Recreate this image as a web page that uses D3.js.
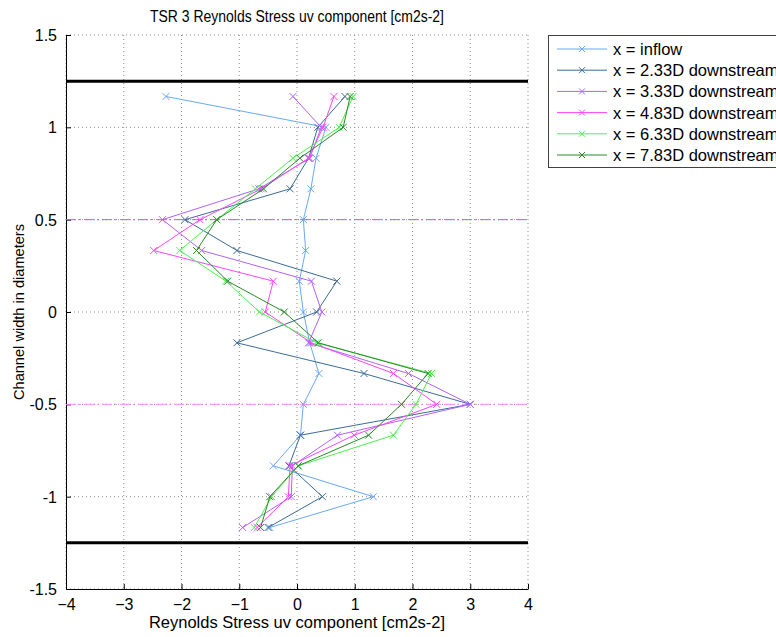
<!DOCTYPE html>
<html>
<head>
<meta charset="utf-8">
<script src="https://cdn.jsdelivr.net/npm/d3@7"></script>
<style>
  body { margin: 0; background: #fff; }
  svg { display: block; }
</style>
</head>
<body>
<div id="chart"></div>
<script>
// chart values
var yLevels = [1.167, 1.0, 0.833, 0.667, 0.5, 0.333, 0.167, 0, -0.167, -0.333, -0.5, -0.667, -0.833, -1.0, -1.167];

var inflow = [-2.27, 0.5, 0.33, 0.24, 0.11, 0.15, 0.04, 0.11, 0.22, 0.38, 0.11, 0.06, -0.41, 1.32, -0.47];
var down233 = [0.83, 0.36, 0.2, -0.12, -1.94, -1.04, 0.69, 0.34, -1.04, 1.16, 3.0, 0.06, -0.14, 0.44, -0.5];
var down333 = [-0.07, 0.42, 0.22, -0.66, -2.33, -1.65, 0.25, 0.43, 0.2, 1.93, 3.0, 0.7, -0.08, -0.1, -0.94];
var down483 = [0.64, 0.45, 0.2, -0.62, -1.68, -2.48, -0.41, -0.55, 0.25, 1.67, 2.42, 0.99, -0.12, -0.15, -0.69];
var down633 = [0.97, 0.73, -0.07, -0.72, -1.39, -2.03, -1.23, -0.65, 0.34, 2.33, 2.06, 1.67, 0.02, -0.44, -0.74];
var down783 = [0.92, 0.8, 0.05, -0.58, -1.39, -1.74, -1.2, -0.22, 0.37, 2.27, 1.81, 1.24, 0.02, -0.47, -0.63];

var seriesNames = ['x = inflow', 'x = 2.33D downstream', 'x = 3.33D downstream',
                   'x = 4.83D downstream', 'x = 6.33D downstream', 'x = 7.83D downstream'];
var seriesValues = [inflow, down233, down333, down483, down633, down783];
var seriesColors = ['#6aa8f4', '#3b6c98', '#b261ff', '#ff44ff', '#48f548', '#2a8a2a'];

var xTicks = [-4, -3, -2, -1, 0, 1, 2, 3, 4];
var yTicks = [-1.5, -1, -0.5, 0, 0.5, 1, 1.5];
var wallLines = [1.25, -1.25];
var turbineLines = [0.5, -0.5];

var fullWidth = 776;
var fullHeight = 637;
var mainFont = '"Liberation Sans", Arial, Helvetica, sans-serif';
var textSize = '16px';

window.onload = function() {
    render();
};

function render() {
    var svg = d3.select('#chart').append('svg')
        .attr('width', fullWidth)
        .attr('height', fullHeight);

    var left = 66, right = 528, top = 35, bottom = 589;

    var x = d3.scaleLinear().domain([-4, 4]).range([left, right]);
    var y = d3.scaleLinear().domain([-1.5, 1.5]).range([bottom, top]);

    // dotted grid
    svg.append('g').selectAll('line.gx')
        .data(xTicks).enter().append('line')
        .attr('x1', function(d) { return x(d); })
        .attr('x2', function(d) { return x(d); })
        .attr('y1', top).attr('y2', bottom)
        .attr('stroke', '#8c8c8c')
        .attr('stroke-width', 1)
        .attr('stroke-dasharray', '1 3');

    svg.append('g').selectAll('line.gy')
        .data(yTicks).enter().append('line')
        .attr('x1', left).attr('x2', right)
        .attr('y1', function(d) { return y(d); })
        .attr('y2', function(d) { return y(d); })
        .attr('stroke', '#8c8c8c')
        .attr('stroke-width', 1)
        .attr('stroke-dasharray', '1 3');

    // axes with inward ticks
    var xAxis = svg.append('g')
        .attr('transform', 'translate(0,' + bottom + ')')
        .call(d3.axisBottom(x).tickValues(xTicks).tickSizeInner(-5).tickSizeOuter(0).tickPadding(10)
            .tickFormat(d3.format('d')));
    var yAxis = svg.append('g')
        .attr('transform', 'translate(' + left + ',0)')
        .call(d3.axisLeft(y).tickValues(yTicks).tickSizeInner(-5).tickSizeOuter(0).tickPadding(9)
            .tickFormat(function(d) { return d === 0 ? '0' : String(d); }));

    [xAxis, yAxis].forEach(function(a) {
        a.select('.domain').attr('stroke', '#000').attr('stroke-width', 1);
        a.selectAll('.tick line').attr('stroke', '#000');
        a.selectAll('.tick text')
            .style('font-family', mainFont)
            .style('font-size', textSize)
            .attr('fill', '#000');
    });
    yAxis.selectAll('.tick text').attr('dy', '0.35em');

    // channel walls
    svg.append('g').selectAll('line')
        .data(wallLines).enter().append('line')
        .attr('x1', left).attr('x2', right)
        .attr('y1', function(d) { return y(d); })
        .attr('y2', function(d) { return y(d); })
        .attr('stroke', '#000')
        .attr('stroke-width', 3);

    // turbine position lines
    svg.append('g').selectAll('line')
        .data(turbineLines).enter().append('line')
        .attr('x1', left).attr('x2', right)
        .attr('y1', function(d) { return y(d); })
        .attr('y2', function(d) { return y(d); })
        .attr('stroke', function(d, i) { return i === 0 ? '#b36bb3' : '#ff88ff'; })
        .attr('stroke-width', 1)
        .attr('stroke-dasharray', '10 3 2 3');

    // series
    var line = d3.line()
        .x(function(d) { return x(d[0]); })
        .y(function(d) { return y(d[1]); });

    var m = 3.5;
    seriesValues.forEach(function(vals, s) {
        var pts = vals.map(function(v, i) { return [v, yLevels[i]]; });
        var g = svg.append('g');
        g.append('path')
            .attr('d', line(pts))
            .attr('fill', 'none')
            .attr('stroke', seriesColors[s])
            .attr('stroke-width', 1);
        g.selectAll('path.mk')
            .data(pts).enter().append('path')
            .attr('d', function(d) {
                var cx = x(d[0]), cy = y(d[1]);
                return 'M' + (cx - m) + ',' + (cy - m) + 'L' + (cx + m) + ',' + (cy + m) +
                       'M' + (cx - m) + ',' + (cy + m) + 'L' + (cx + m) + ',' + (cy - m);
            })
            .attr('stroke', seriesColors[s])
            .attr('stroke-width', 1)
            .attr('fill', 'none');
    });

    // title and axis labels
    svg.append('text')
        .attr('x', (left + right) / 2)
        .attr('y', 22)
        .style('text-anchor', 'middle')
        .style('font-family', mainFont)
        .style('font-size', '16px')
        .attr('textLength', 294)
        .attr('lengthAdjust', 'spacingAndGlyphs')
        .text('TSR 3 Reynolds Stress uv component [cm2s-2]');

    svg.append('text')
        .attr('x', (left + right) / 2)
        .attr('y', 628)
        .style('text-anchor', 'middle')
        .style('font-family', mainFont)
        .style('font-size', '16.5px')
        .text('Reynolds Stress uv component [cm2s-2]');

    svg.append('text')
        .attr('transform', 'translate(24,' + ((top + bottom) / 2) + ') rotate(-90)')
        .style('text-anchor', 'middle')
        .style('font-family', mainFont)
        .style('font-size', '14.6px')
        .text('Channel width in diameters');

    makeLegend(svg);
}

function makeLegend(svg) {
    var lx = 548, ly = 35, rowH = 21.2;
    svg.append('rect')
        .attr('x', lx + 0.5)
        .attr('y', ly + 0.5)
        .attr('width', 300)
        .attr('height', 132)
        .attr('fill', '#fff')
        .attr('stroke', '#404040')
        .attr('stroke-width', 1);

    seriesNames.forEach(function(name, i) {
        var cy = ly + 14 + i * rowH;
        var c = seriesColors[i];
        svg.append('line')
            .attr('x1', lx + 9).attr('x2', lx + 59)
            .attr('y1', cy).attr('y2', cy)
            .attr('stroke', c).attr('stroke-width', 1);
        var mx = lx + 34, m = 3;
        svg.append('path')
            .attr('d', 'M' + (mx - m) + ',' + (cy - m) + 'L' + (mx + m) + ',' + (cy + m) +
                       'M' + (mx - m) + ',' + (cy + m) + 'L' + (mx + m) + ',' + (cy - m))
            .attr('stroke', c).attr('stroke-width', 1);
        svg.append('text')
            .attr('x', lx + 65)
            .attr('y', cy + 6)
            .style('font-family', '"Liberation Sans", Arial, sans-serif')
            .style('font-size', '16.5px')
            .text(name);
    });
}
</script>
</body>
</html>
